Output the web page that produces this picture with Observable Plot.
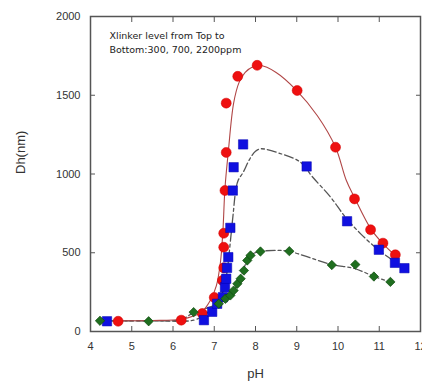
<!DOCTYPE html>
<html><head><meta charset="utf-8">
<script src="https://cdn.jsdelivr.net/npm/d3@7"></script>
<script src="https://cdn.jsdelivr.net/npm/@observablehq/plot@0.6"></script>
<style>html,body{margin:0;padding:0;background:#fff;} #chart{width:422px;height:383px;overflow:hidden;}</style>
</head><body><div id="chart"></div>
<script>
// Measured points: 300 ppm (red circles), 700 ppm (blue squares), 2200 ppm (green diamonds)
const redPH   = [4.67, 6.2, 6.71, 7.0, 7.2, 7.23, 7.23, 7.23, 7.26, 7.29, 7.29, 7.57, 8.04, 9.01, 9.94, 10.4, 10.79, 11.09, 11.39];
const redDh   = [65, 72, 114, 216, 324, 404, 535, 624, 895, 1137, 1450, 1620, 1690, 1530, 1170, 842, 646, 561, 487];
const bluePH  = [4.40, 6.75, 6.95, 7.07, 7.21, 7.26, 7.29, 7.31, 7.34, 7.39, 7.45, 7.47, 7.70, 9.24, 10.22, 10.99, 11.38, 11.61];
const blueDh  = [65, 72, 125, 176, 218, 281, 335, 404, 472, 658, 895, 1043, 1188, 1048, 700, 519, 436, 402];
const greenPH = [4.23, 5.41, 6.5, 7.11, 7.27, 7.39, 7.47, 7.56, 7.64, 7.72, 7.80, 7.88, 8.12, 8.82, 9.85, 10.42, 10.87, 11.27];
const greenDh = [68, 65, 123, 176, 208, 229, 260, 303, 335, 387, 451, 483, 508, 510, 422, 425, 349, 315];

// Fitted guide curves
const redFitPH   = [4.67, 5.5, 6.2, 6.5, 6.7, 6.9, 7.05, 7.15, 7.21, 7.26, 7.34, 7.47, 7.6, 7.75, 7.95, 8.1, 8.5, 9.0, 9.5, 9.94, 10.2, 10.4, 10.8, 11.1, 11.4];
const redFitDh   = [68, 70, 78, 98, 125, 195, 290, 440, 640, 910, 1140, 1450, 1580, 1645, 1682, 1690, 1645, 1530, 1370, 1170, 960, 850, 650, 555, 480];
const blueFitPH  = [4.4, 5.5, 6.5, 6.79, 7.03, 7.23, 7.32, 7.39, 7.46, 7.52, 7.58, 7.7, 7.85, 8.0, 8.13, 8.6, 9.09, 9.37, 9.82, 10.18, 10.55, 11.0, 11.4];
const blueFitDh  = [67, 69, 72, 110, 176, 265, 400, 570, 750, 895, 960, 1010, 1090, 1145, 1160, 1130, 1075, 985, 853, 726, 620, 514, 440];
const greenFitPH = [4.23, 5.4, 6.2, 6.5, 7.1, 7.4, 7.6, 7.8, 7.95, 8.1, 8.5, 8.8, 9.3, 9.85, 10.4, 10.87, 11.27];
const greenFitDh = [68, 68, 76, 120, 176, 229, 320, 450, 495, 508, 515, 510, 470, 425, 400, 350, 313];

const xTicks = [4, 5, 6, 7, 8, 9, 10, 11, 12];
const yTicks = [0, 500, 1000, 1500, 2000];
const xLabel = "pH";
const yLabel = "Dh(nm)";
const note = ["Xlinker level from Top to", "Bottom:300, 700, 2200ppm"];

const zip = (xs, ys) => xs.map((x, i) => ({x, y: ys[i]}));
const red = zip(redPH, redDh), blue = zip(bluePH, blueDh), green = zip(greenPH, greenDh);
const redFit = zip(redFitPH, redFitDh), blueFit = zip(blueFitPH, blueFitDh), greenFit = zip(greenFitPH, greenFitDh);

const chart = Plot.plot({
  width: 422, height: 383,
  marginLeft: 90, marginRight: 2, marginTop: 16, marginBottom: 52,
  style: {fontFamily: "'Liberation Sans', Arial, sans-serif", fontSize: "11px", color: "#333", background: "#fff", overflow: "hidden"},
  x: {domain: [4, 12]},
  y: {domain: [0, 2000]},
  marks: [
    Plot.line(greenFit, {x: "x", y: "y", curve: "catmull-rom", stroke: "#555", strokeWidth: 1.3, strokeDasharray: "9,3,3,3"}),
    Plot.line(blueFit, {x: "x", y: "y", curve: "catmull-rom", stroke: "#555", strokeWidth: 1.3, strokeDasharray: "9,3,3,3"}),
    Plot.line(redFit, {x: "x", y: "y", curve: "catmull-rom", stroke: "#b04646", strokeWidth: 1.1}),
    Plot.dot(red, {x: "x", y: "y", r: 5, fill: "#ee1010", stroke: "#d00000", strokeWidth: 0.5}),
    Plot.dot(blue, {x: "x", y: "y", r: 5.3, symbol: "square", fill: "#1010e0", stroke: "#0000b0", strokeWidth: 0.5}),
    Plot.dot(green, {x: "x", y: "y", r: 4.2, symbol: "diamond2", fill: "#1f6e1f", stroke: "#0f4a0f", strokeWidth: 0.7}),
    Plot.frame({stroke: "#555", strokeWidth: 1.5}),
    Plot.axisX({anchor: "bottom", ticks: xTicks, tickSize: -5, tickPadding: 16, tickFormat: d3.format("d"), label: null, stroke: "#555"}),
    Plot.axisX({anchor: "top", ticks: xTicks, tickSize: -5, tickFormat: () => "", label: null, stroke: "#555"}),
    Plot.axisY({anchor: "left", ticks: yTicks, tickSize: -5, tickPadding: 15, tickFormat: d3.format("d"), label: null, stroke: "#555"}),
    Plot.axisY({anchor: "right", ticks: yTicks, tickSize: -5, tickFormat: () => "", label: null, stroke: "#555"}),
    Plot.text([xLabel], {frameAnchor: "bottom", dy: 46, fontSize: 13, fill: "#333"}),
    Plot.text([yLabel], {frameAnchor: "left", dx: -70, rotate: -90, fontSize: 13, fill: "#333"}),
    Plot.text([note.join("\n")], {frameAnchor: "top-left", dx: 19, dy: 12, fontSize: 9.5, lineHeight: 1.5, fill: "#222", fontFamily: "'DejaVu Sans', sans-serif", textAnchor: "start", lineAnchor: "top"})
  ]
});
document.getElementById("chart").appendChild(chart);
</script>
</body></html>
